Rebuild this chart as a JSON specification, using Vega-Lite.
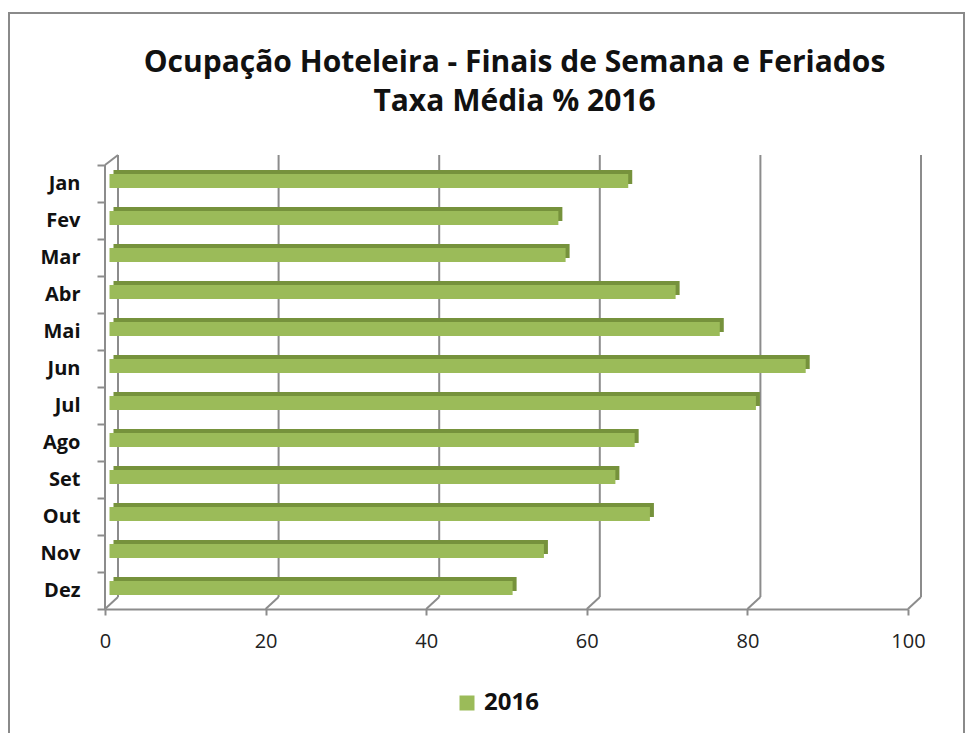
{
  "$schema": "https://vega.github.io/schema/vega-lite/v6.json",
  "width": 955,
  "height": 725,
  "autosize": {"type": "none"},
  "padding": {"left": 9, "top": 13, "right": 6, "bottom": 0},
  "background": "white",
  "config": {
    "view": {"stroke": "#8a8a8a", "strokeWidth": 2},
    "font": "Open Sans",
    "axisX": {
      "domain": true, "domainColor": "#8c8c8c", "domainWidth": 2, "tickColor": "#8c8c8c", "tickWidth": 2, "tickSize": 6,
      "labelFont": "Open Sans", "labelFontSize": 20, "labelColor": "#222222", "labelPadding": 16, "labelFlush": false,
      "grid": false, "title": null
    },
    "axisY": {
      "domain": false, "tickColor": "#8c8c8c", "tickWidth": 2, "tickSize": 8,
      "labelFont": "Open Sans", "labelFontSize": 20, "labelFontWeight": "bold", "labelColor": "#111111", "labelPadding": 17,
      "grid": false, "title": null
    }
  },
  "title": {
    "text": ["Ocupação Hoteleira - Finais de Semana e Feriados", "Taxa Média % 2016"],
    "font": "Open Sans",
    "fontSize": 30,
    "fontWeight": "bold",
    "color": "#111111",
    "lineHeight": 39,
    "anchor": "middle",
    "frame": "group",
    "dx": 28,
    "offset": -114
  },
  "datasets": {
    "grid": [{"g": 0}, {"g": 20}, {"g": 40}, {"g": 60}, {"g": 80}, {"g": 100}],
    "ocup": [
      {"mes": "Jan", "taxa": 64.6, "serie": "2016"},
      {"mes": "Fev", "taxa": 55.9, "serie": "2016"},
      {"mes": "Mar", "taxa": 56.8, "serie": "2016"},
      {"mes": "Abr", "taxa": 70.5, "serie": "2016"},
      {"mes": "Mai", "taxa": 76.0, "serie": "2016"},
      {"mes": "Jun", "taxa": 86.7, "serie": "2016"},
      {"mes": "Jul", "taxa": 80.5, "serie": "2016"},
      {"mes": "Ago", "taxa": 65.4, "serie": "2016"},
      {"mes": "Set", "taxa": 63.0, "serie": "2016"},
      {"mes": "Out", "taxa": 67.3, "serie": "2016"},
      {"mes": "Nov", "taxa": 54.1, "serie": "2016"},
      {"mes": "Dez", "taxa": 50.2, "serie": "2016"}
    ]
  },
  "resolve": {"scale": {"y": "independent"}},
  "layer": [
    {
      "data": {"name": "grid"},
      "mark": {"type": "rule", "color": "#8c8c8c", "strokeWidth": 2, "xOffset": 13},
      "encoding": {
        "x": {"field": "g", "type": "quantitative", "scale": {"domain": [0, 100], "range": [96, 899]},
              "axis": {"orient": "bottom", "offset": -129, "values": [0, 20, 40, 60, 80, 100]}},
        "y": {"datum": 0, "type": "quantitative", "scale": {"domain": [0, 1], "range": [584, 142]}, "axis": null},
        "y2": {"datum": 1}
      }
    },
    {
      "data": {"name": "grid"},
      "mark": {"type": "rule", "color": "#8c8c8c", "strokeWidth": 2, "yOffset": 12, "x2Offset": 13},
      "encoding": {
        "x": {"field": "g", "type": "quantitative", "scale": {"domain": [0, 100], "range": [96, 899]},
              "axis": {"orient": "bottom", "offset": -129, "values": [0, 20, 40, 60, 80, 100]}},
        "x2": {"field": "g"},
        "y": {"datum": 0, "type": "quantitative", "scale": {"domain": [0, 1], "range": [584, 142]}, "axis": null},
        "y2": {"datum": 0}
      }
    },
    {
      "data": {"name": "grid"},
      "transform": [{"filter": "datum.g == 0"}],
      "mark": {"type": "rule", "color": "#8c8c8c", "strokeWidth": 2, "yOffset": 10, "x2Offset": 13},
      "encoding": {
        "x": {"field": "g", "type": "quantitative", "scale": {"domain": [0, 100], "range": [96, 899]},
              "axis": {"orient": "bottom", "offset": -129, "values": [0, 20, 40, 60, 80, 100]}},
        "x2": {"field": "g"},
        "y": {"datum": 1, "type": "quantitative", "scale": {"domain": [0, 1], "range": [584, 142]}, "axis": null},
        "y2": {"datum": 1}
      }
    },
    {
      "data": {"name": "grid"},
      "transform": [{"filter": "datum.g == 0"}],
      "mark": {"type": "rule", "color": "#8c8c8c", "strokeWidth": 2, "yOffset": 12, "y2Offset": 10},
      "encoding": {
        "x": {"field": "g", "type": "quantitative", "scale": {"domain": [0, 100], "range": [96, 899]},
              "axis": {"orient": "bottom", "offset": -129, "values": [0, 20, 40, 60, 80, 100]}},
        "y": {"datum": 0, "type": "quantitative", "scale": {"domain": [0, 1], "range": [584, 142]}, "axis": null},
        "y2": {"datum": 1}
      }
    },
    {
      "data": {"name": "ocup"},
      "mark": {"type": "bar", "color": "#76923c", "xOffset": 8.5, "yOffset": -6.5, "height": {"band": 0.38}},
      "encoding": {
        "x": {"field": "taxa", "type": "quantitative", "scale": {"domain": [0, 100], "range": [96, 899]},
              "axis": {"orient": "bottom", "offset": -129, "values": [0, 20, 40, 60, 80, 100]}},
        "y": {"field": "mes", "type": "nominal", "sort": null, "scale": {"range": [152, 596], "paddingInner": 0, "paddingOuter": 0},
              "axis": {"orient": "left", "offset": -96, "tickBand": "extent"}}
      }
    },
    {
      "data": {"name": "ocup"},
      "mark": {"type": "bar", "xOffset": 4.5, "yOffset": -2.5, "height": {"band": 0.38}},
      "encoding": {
        "x": {"field": "taxa", "type": "quantitative", "scale": {"domain": [0, 100], "range": [96, 899]},
              "axis": {"orient": "bottom", "offset": -129, "values": [0, 20, 40, 60, 80, 100]}},
        "y": {"field": "mes", "type": "nominal", "sort": null, "scale": {"range": [152, 596], "paddingInner": 0, "paddingOuter": 0}, "axis": null},
        "color": {
          "field": "serie", "type": "nominal",
          "scale": {"domain": ["2016"], "range": ["#9bbb59"]},
          "legend": {
            "orient": "none", "legendX": 446, "legendY": 678, "title": null,
            "symbolType": "square", "symbolSize": 225, "symbolStrokeWidth": 0,
            "labelFont": "Open Sans", "labelFontSize": 24, "labelFontWeight": "bold", "labelColor": "#111111", "labelOffset": 5
          }
        }
      }
    }
  ]
}
